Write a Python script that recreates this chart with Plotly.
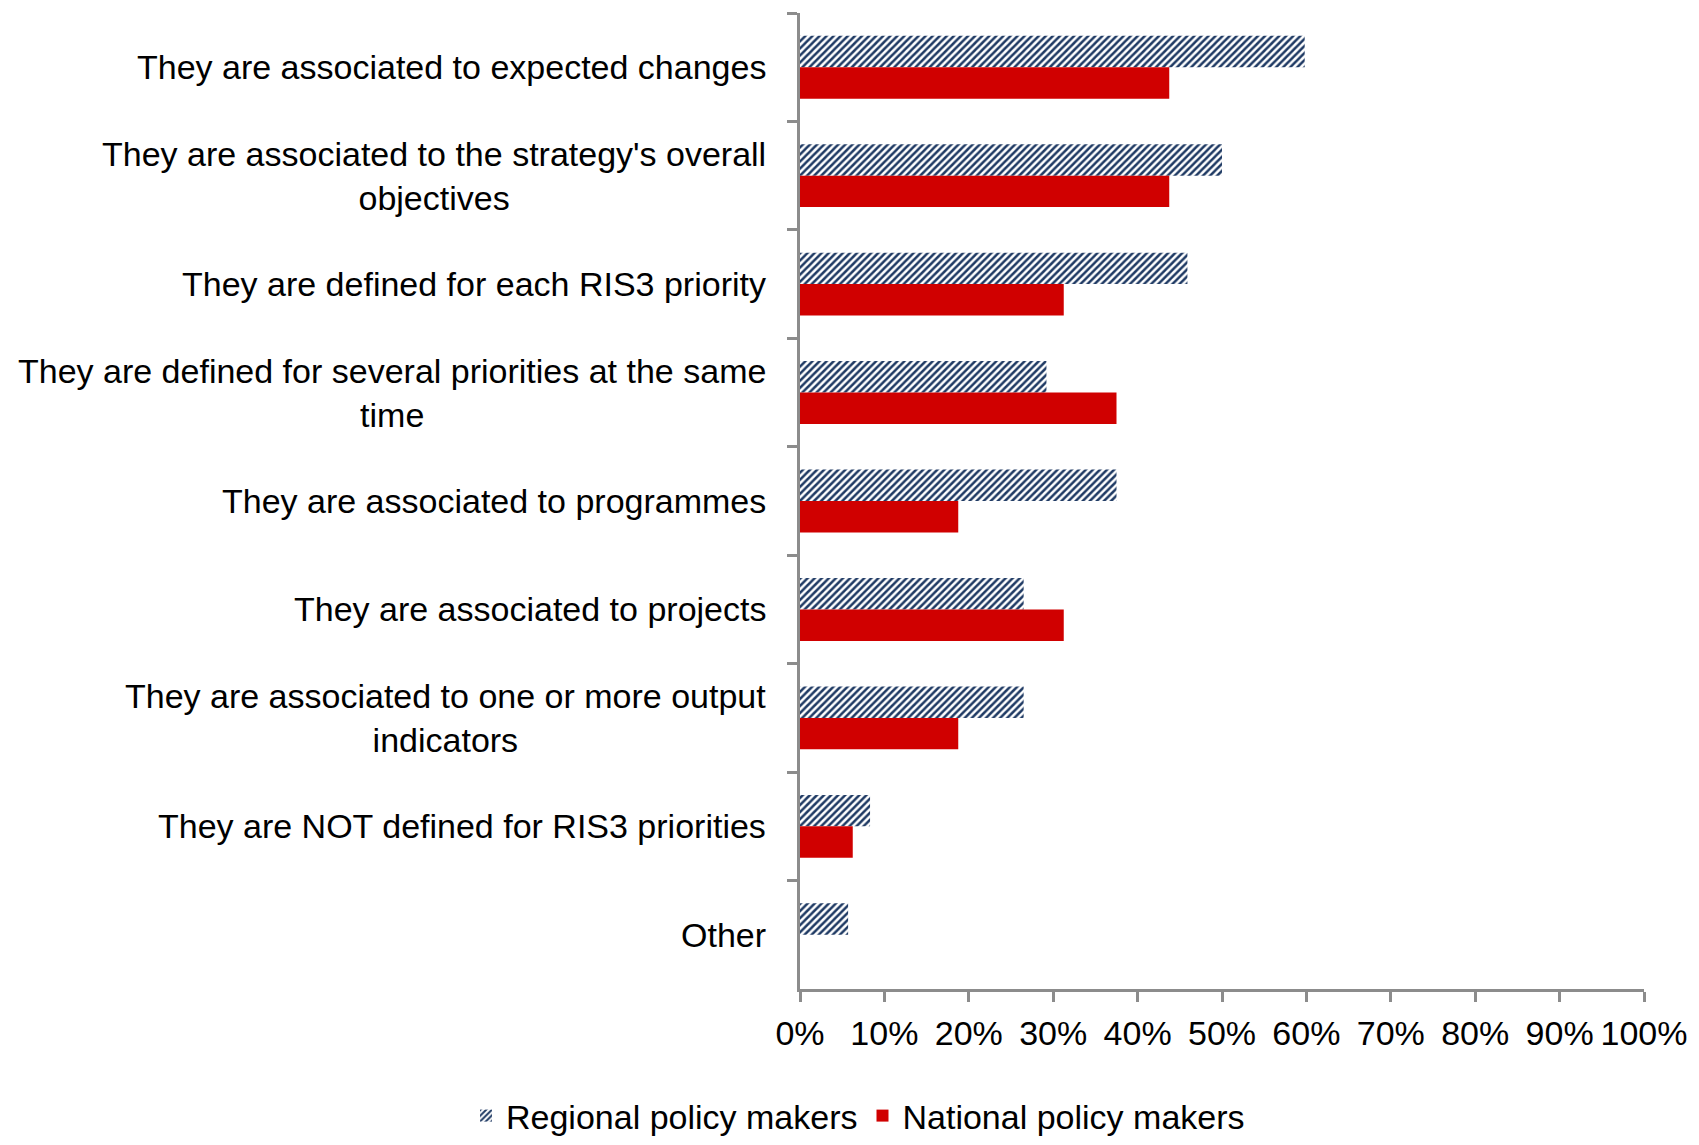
import plotly.graph_objects as go

categories = [
    "They are associated to expected changes",
    "They are associated to the strategy's overall<br>objectives",
    "They are defined for each RIS3 priority",
    "They are defined for several priorities at the same<br>time",
    "They are associated to programmes",
    "They are associated to projects",
    "They are associated to one or more output<br>indicators",
    "They are NOT defined for RIS3 priorities",
    "Other",
]
regional = [59.8, 50.0, 45.9, 29.2, 37.5, 26.5, 26.5, 8.3, 5.7]
national = [43.75, 43.75, 31.25, 37.5, 18.75, 31.25, 18.75, 6.25, 0]
x_ticks = [0, 10, 20, 30, 40, 50, 60, 70, 80, 90, 100]
x_tick_labels = [f"{v}%" for v in x_ticks]

FONT = "Liberation Sans, Arial, Helvetica, sans-serif"
AXIS_COLOR = "#8c8c8c"
FS = 34

fig = go.Figure()
fig.add_trace(go.Bar(
    name="Regional policy makers",
    y=categories, x=regional, orientation="h",
    marker=dict(
        color="white",
        line=dict(width=0),
        pattern=dict(shape="/", fgcolor="#1f3a64", bgcolor="white",
                     size=5, solidity=0.5, fillmode="replace"),
    ),
))
fig.add_trace(go.Bar(
    name="National policy makers",
    y=categories, x=national, orientation="h",
    marker=dict(color="#d00000", line=dict(width=0)),
))

annotations = []
for c in categories:
    annotations.append(dict(
        text=c, xref="paper", yref="y", x=-0.038, y=c,
        xanchor="right", yanchor="middle", align="center", showarrow=False,
        font=dict(family=FONT, size=FS, color="black"),
    ))

fig.update_layout(
    width=1699, height=1145,
    margin=dict(l=800, r=49, t=13, b=156),
    paper_bgcolor="white", plot_bgcolor="white",
    barmode="group", bargap=0.42, bargroupgap=0,
    font=dict(family=FONT, size=FS, color="black"),
    showlegend=True,
    legend=dict(
        orientation="h", xref="container", yref="container",
        x=0.505, xanchor="center", y=0.0, yanchor="bottom",
        font=dict(family=FONT, size=FS, color="black"),
        itemwidth=30, tracegroupgap=0,
    ),
    annotations=annotations,
    xaxis=dict(
        range=[0, 100], tickvals=x_ticks, ticktext=x_tick_labels,
        showgrid=False, zeroline=False,
        showline=True, linecolor=AXIS_COLOR, linewidth=3,
        ticks="outside", ticklen=10, tickwidth=3, tickcolor=AXIS_COLOR,
        tickfont=dict(family=FONT, size=FS, color="black"),
        ticklabelstandoff=2,
    ),
    yaxis=dict(
        categoryorder="array", categoryarray=categories,
        autorange="reversed",
        showgrid=False, zeroline=False,
        showline=True, linecolor=AXIS_COLOR, linewidth=3,
        ticks="outside", ticklen=10, tickwidth=3, tickcolor=AXIS_COLOR,
        tickson="boundaries", showticklabels=False,
    ),
)

fig.write_html("out.html")
